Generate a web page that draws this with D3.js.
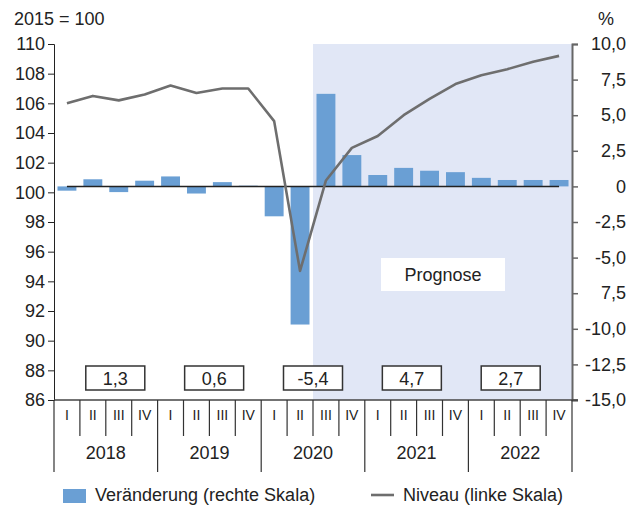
<!DOCTYPE html>
<html>
<head>
<meta charset="utf-8">
<script src="https://cdn.jsdelivr.net/npm/d3@7"></script>
<style>
  body { margin: 0; background: #fff; }
  text { font-family: "Liberation Sans", Arial, sans-serif; fill: #222; }
</style>
</head>
<body>
<svg id="chart" width="634" height="505"></svg>
<script>
// Data
const years = ["2018", "2019", "2020", "2021", "2022"];
const quarterNames = ["I", "II", "III", "IV"];
const change = [-0.3, 0.5, -0.4, 0.4, 0.7, -0.5, 0.3, 0.05, -2.1, -9.7,
                6.5, 2.2, 0.8, 1.3, 1.1, 1.0, 0.6, 0.45, 0.45, 0.45];
const level = [106.0, 106.5, 106.2, 106.6, 107.2, 106.7, 107.0, 107.0, 104.8, 94.7,
               100.8, 103.0, 103.8, 105.2, 106.3, 107.3, 107.9, 108.3, 108.8, 109.2];
const annual = ["1,3", "0,6", "-5,4", "4,7", "2,7"];
const leftTicks = [86, 88, 90, 92, 94, 96, 98, 100, 102, 104, 106, 108, 110];
const rightTicks = [-15, -12.5, -10, -7.5, -5, -2.5, 0, 2.5, 5, 7.5, 10];
const rightLabels = ["-15,0", "-12,5", "-10,0", "7,5", "-5,0", "-2,5", "0", "2,5", "5,0", "7,5", "10,0"];
const forecastStart = 10; // 2020 Q3

const quarters = years.flatMap(y => quarterNames.map(q => y + "-" + q));

const svg = d3.select("#chart");
const mLeft = 54, mRight = 572, mTop = 44, mBottom = 400;

const x = d3.scaleBand().domain(quarters).range([mLeft, mRight]).paddingInner(0.27).paddingOuter(0.135);
const xb = d3.scaleBand().domain(quarters).range([mLeft, mRight]);
const yL = d3.scaleLinear().domain([86, 110]).range([mBottom, mTop]);
const yR = d3.scaleLinear().domain([-15, 10]).range([mBottom, mTop]);

// forecast shading
svg.append("rect")
  .attr("x", xb(quarters[forecastStart]))
  .attr("y", mTop)
  .attr("width", mRight - xb(quarters[forecastStart]))
  .attr("height", mBottom - mTop)
  .attr("fill", "#e1e7f6");

// bars
svg.append("g")
  .selectAll("rect")
  .data(change)
  .join("rect")
  .attr("x", (d, i) => x(quarters[i]))
  .attr("width", x.bandwidth())
  .attr("y", d => yR(Math.max(0, d)))
  .attr("height", d => Math.abs(yR(d) - yR(0)))
  .attr("fill", "#6a9fd4");

// zero line
svg.append("line")
  .attr("x1", xb(quarters[0]) + xb.bandwidth() / 2)
  .attr("x2", xb(quarters[quarters.length - 1]) + xb.bandwidth() / 2)
  .attr("y1", yR(0)).attr("y2", yR(0))
  .attr("stroke", "#222").attr("stroke-width", 1.5);

// level line
svg.append("path")
  .datum(level)
  .attr("fill", "none")
  .attr("stroke", "#6e6e6e")
  .attr("stroke-width", 2.6)
  .attr("stroke-linejoin", "round")
  .attr("d", d3.line()
    .x((d, i) => xb(quarters[i]) + xb.bandwidth() / 2)
    .y(d => yL(d)));

// left axis
const gL = svg.append("g")
  .attr("transform", `translate(${mLeft},0)`)
  .call(d3.axisLeft(yL).tickValues(leftTicks).tickSize(6).tickPadding(3).tickFormat(d3.format("d")));
gL.select(".domain").attr("stroke", "#222");
gL.selectAll(".tick line").attr("stroke", "#222");
gL.selectAll("text").style("font-size", "18px").attr("fill", "#222");

// right axis
const gR = svg.append("g")
  .attr("transform", `translate(${mRight},0)`)
  .call(d3.axisRight(yR).tickValues(rightTicks).tickSize(6)
    .tickFormat((d, i) => rightLabels[i]));
gR.select(".domain").attr("stroke", "#666").attr("stroke-width", 2);
gR.selectAll(".tick line").attr("stroke", "#666").attr("stroke-width", 1.5);
gR.selectAll("text").style("font-size", "18px").attr("fill", "#222")
  .attr("text-anchor", "end").attr("x", 626 - mRight);

// bottom axis
svg.append("line")
  .attr("x1", mLeft).attr("x2", mRight + 6)
  .attr("y1", mBottom).attr("y2", mBottom)
  .attr("stroke", "#444").attr("stroke-width", 1.5);

const gB = svg.append("g");
quarters.forEach((q, i) => {
  const x0 = xb(q);
  const isYear = i % 4 === 0;
  gB.append("line")
    .attr("x1", x0).attr("x2", x0)
    .attr("y1", mBottom).attr("y2", isYear ? 472 : 436)
    .attr("stroke", "#333").attr("stroke-width", 1.2);
  gB.append("text")
    .attr("x", x0 + xb.bandwidth() / 2)
    .attr("y", 420)
    .attr("text-anchor", "middle")
    .style("font-size", "14px")
    .text(quarterNames[i % 4]);
});
gB.append("line")
  .attr("x1", mRight).attr("x2", mRight)
  .attr("y1", mBottom).attr("y2", 472)
  .attr("stroke", "#333").attr("stroke-width", 1.2);
years.forEach((y, j) => {
  const xs = xb(quarters[j * 4]);
  gB.append("text")
    .attr("x", xs + 2 * xb.bandwidth())
    .attr("y", 459)
    .attr("text-anchor", "middle")
    .style("font-size", "18px")
    .text(y);
});

// annual change boxes
const xa = d3.scalePoint().domain(years).range([mLeft, mRight]).padding(0.62);
const gA = svg.append("g");
years.forEach((y, j) => {
  const cx = xa(y);
  gA.append("rect")
    .attr("x", cx - 29.5).attr("y", 366)
    .attr("width", 59).attr("height", 24)
    .attr("fill", "#fff").attr("stroke", "#333").attr("stroke-width", 1.5);
  gA.append("text")
    .attr("x", cx).attr("y", 384.5)
    .attr("text-anchor", "middle")
    .style("font-size", "18px")
    .text(annual[j]);
});

// Prognose label
svg.append("rect")
  .attr("x", 381).attr("y", 258).attr("width", 124).attr("height", 33)
  .attr("fill", "#fff");
svg.append("text")
  .attr("x", 443).attr("y", 281)
  .attr("text-anchor", "middle")
  .style("font-size", "18px")
  .text("Prognose");

// axis titles
svg.append("text").attr("x", 14).attr("y", 25).style("font-size", "18px").text("2015 = 100");
svg.append("text").attr("x", 606).attr("y", 25).attr("text-anchor", "middle").style("font-size", "18px").text("%");

// legend
svg.append("rect").attr("x", 63).attr("y", 489).attr("width", 23).attr("height", 14).attr("fill", "#6a9fd4");
svg.append("text").attr("x", 95).attr("y", 501).style("font-size", "18px").text("Veränderung (rechte Skala)");
svg.append("line").attr("x1", 371).attr("x2", 394).attr("y1", 495).attr("y2", 495)
  .attr("stroke", "#6e6e6e").attr("stroke-width", 2.6);
svg.append("text").attr("x", 403).attr("y", 501).style("font-size", "18px").text("Niveau (linke Skala)");
</script>
</body>
</html>
